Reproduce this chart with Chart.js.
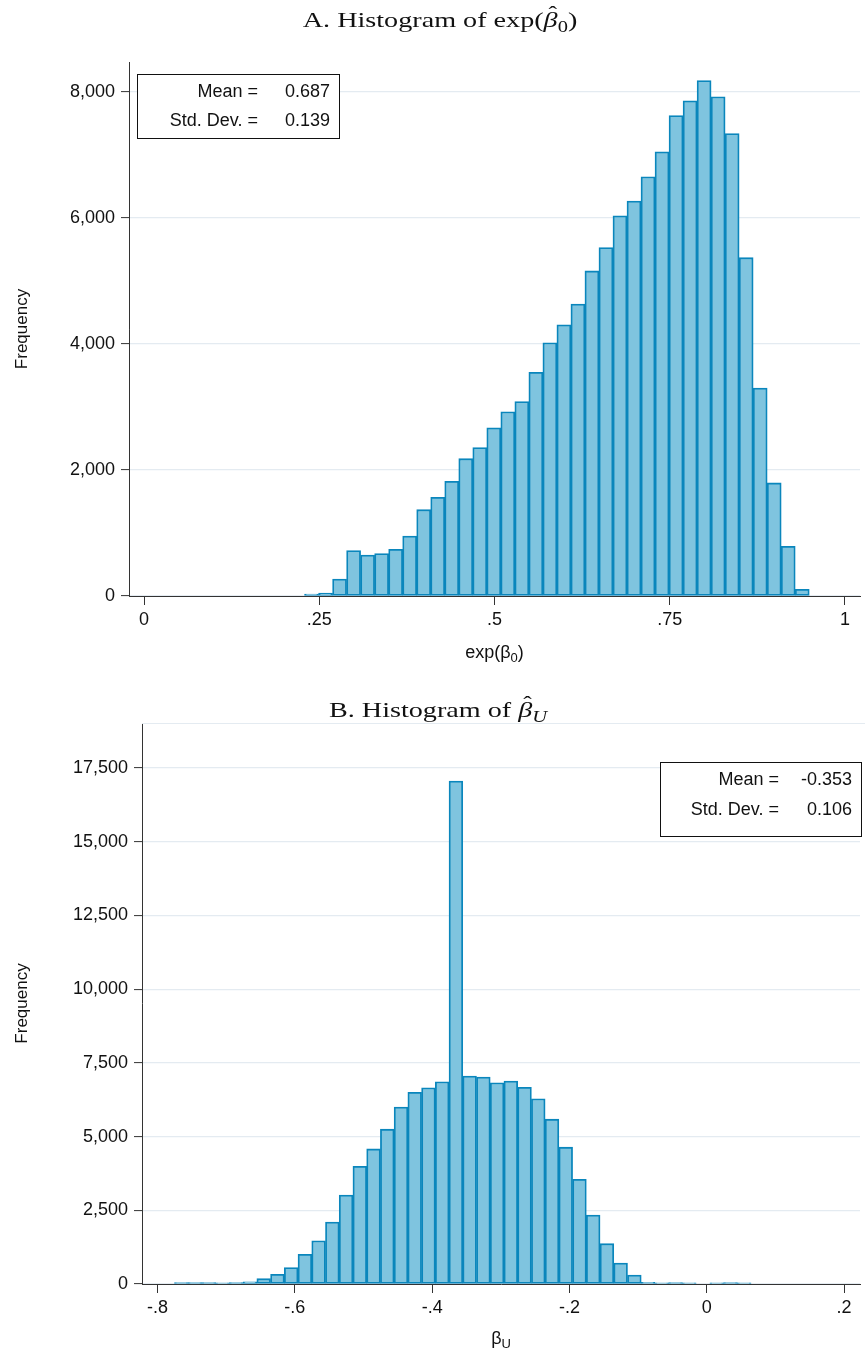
<!DOCTYPE html>
<html>
<head>
<meta charset="utf-8">
<script src="https://cdn.jsdelivr.net/npm/chart.js@4.4.1/dist/chart.umd.min.js"></script>
<style>
  html, body { margin: 0; padding: 0; background: #ffffff; }
  #wrap { position: relative; width: 865px; height: 1356px; }
  .panel { position: absolute; left: 0; width: 865px; }
  #panelA { top: 0; height: 680px; }
  #panelB { top: 680px; height: 676px; }
</style>
</head>
<body>
<div id="wrap">
  <div class="panel" id="panelA"><canvas id="chartA" width="865" height="680"></canvas></div>
  <div class="panel" id="panelB"><canvas id="chartB" width="865" height="676"></canvas></div>
</div>
<script>
// ---- Panel A: histogram of exp(beta0) ----
const binWidth = 0.02;
const expB0Start = 0.229;
const expB0Counts = [
  30, 45, 270, 720, 650, 675, 740, 950, 1370, 1565,
  1820, 2180, 2355, 2670, 2925, 3085, 3550, 4020, 4305, 4635,
  5160, 5530, 6035, 6270, 6655, 7050, 7625, 7860, 8180, 7925,
  7340, 5370, 3300, 1795, 790, 105
];
const expB0XTicks = [0, 0.25, 0.5, 0.75, 1];
const expB0XTickLabels = ['0', '.25', '.5', '.75', '1'];
const expB0YTicks = [0, 2000, 4000, 6000, 8000];
const expB0StatLabels = ['Mean =', 'Std. Dev. ='];
const expB0StatValues = ['0.687', '0.139'];

// ---- Panel B: histogram of beta_U ----
const betaUStart = -0.7754;
const betaUCounts = [
  45, 45, 45, 40, 50, 70, 180, 330, 560, 1008,
  1468, 2100, 3018, 3990, 4580, 5250, 6002, 6500, 6657, 6860,
  17060, 7053, 7020, 6826, 6884, 6670, 6284, 5590, 4640, 3550,
  2340, 1367, 710, 305, 60, 40, 45, 40, 0, 40,
  45, 40
];
const betaUXTicks = [-0.8, -0.6, -0.4, -0.2, 0, 0.2];
const betaUXTickLabels = ['-.8', '-.6', '-.4', '-.2', '0', '.2'];
const betaUYTicks = [0, 2500, 5000, 7500, 10000, 12500, 15000, 17500];
const betaUStatLabels = ['Mean =', 'Std. Dev. ='];
const betaUStatValues = ['-0.353', '0.106'];

const SANS = '"Liberation Sans", Arial, Helvetica, sans-serif';
const SERIF = '"Liberation Serif", "DejaVu Serif", serif';
const FILL = '#7fc4df';
const EDGE = '#0a86bc';
const AXIS = '#333333';
const GRID = '#e4ebf1';

function histPoints(start, counts) {
  return counts.map((c, i) => ({ x: start + binWidth * (i + 0.5), y: c }));
}

// Draws a run of text pieces; each piece can be italic, subscripted or carry a hat.
// The run is stretched horizontally by sx around its centre.
function drawPieces(ctx, pieces, cx, baseline, family, size, sx) {
  const fontOf = p => (p.italic ? 'italic ' : '') + Math.round(p.sub ? size * 0.72 : size) + 'px ' + family;
  let total = 0;
  pieces.forEach(p => { ctx.font = fontOf(p); p.w = ctx.measureText(p.t).width; total += p.w; });
  ctx.save();
  ctx.translate(cx, 0);
  ctx.scale(sx || 1, 1);
  let x = -total / 2;
  ctx.textAlign = 'left';
  ctx.textBaseline = 'alphabetic';
  pieces.forEach(p => {
    ctx.font = fontOf(p);
    const y = baseline + (p.sub ? size * 0.22 : 0);
    ctx.fillText(p.t, x, y);
    if (p.hat) {
      ctx.font = Math.round(size * 0.9) + 'px ' + family;
      const hw = ctx.measureText('\u02C6').width;
      ctx.fillText('\u02C6', x + p.w / 2 - hw / 2 + size * 0.08, baseline - size * 0.28);
    }
    x += p.w;
  });
  ctx.restore();
}

const labelPlugin = {
  id: 'panelText',
  beforeDatasetsDraw(chart, args, opts) {
    // faint rule along the top of the plot region
    if (!opts.topRule) return;
    const { ctx, chartArea: a } = chart;
    ctx.save();
    ctx.strokeStyle = GRID;
    ctx.lineWidth = 1.2;
    ctx.beginPath();
    ctx.moveTo(a.left, a.top + 0.5);
    ctx.lineTo(chart.width, a.top + 0.5);
    ctx.stroke();
    ctx.restore();
  },
  afterDraw(chart, args, opts) {
    const ctx = chart.ctx;
    ctx.save();
    ctx.fillStyle = '#111111';
    drawPieces(ctx, opts.title, opts.titleX, opts.titleY, SERIF, 22, 1.28);
    drawPieces(ctx, opts.xTitle, (chart.chartArea.left + chart.chartArea.right) / 2, opts.xTitleY, SANS, 18, 1);
    // statistics box
    const b = opts.box;
    ctx.fillStyle = '#ffffff';
    ctx.fillRect(b.x, b.y, b.w, b.h);
    ctx.strokeStyle = '#111111';
    ctx.lineWidth = 1;
    ctx.strokeRect(b.x + 0.5, b.y + 0.5, b.w, b.h);
    ctx.fillStyle = '#111111';
    ctx.font = '18px ' + SANS;
    ctx.textAlign = 'right';
    ctx.textBaseline = 'middle';
    opts.statLabels.forEach((s, i) => {
      ctx.fillText(s, b.labelRight, b.rows[i]);
      ctx.fillText(opts.statValues[i], b.valueRight, b.rows[i]);
    });
    ctx.restore();
  }
};

function makeChart(id, cfg) {
  const xLabels = cfg.xTickLabels;
  return new Chart(document.getElementById(id), {
    type: 'bar',
    data: {
      datasets: [{
        data: histPoints(cfg.start, cfg.counts),
        backgroundColor: FILL,
        borderColor: EDGE,
        borderWidth: 1.8,
        borderSkipped: false,
        barPercentage: 1,
        categoryPercentage: 1
      }]
    },
    options: {
      responsive: false,
      animation: false,
      events: [],
      layout: { padding: { top: cfg.padTop, right: 5, left: 0, bottom: 0 } },
      plugins: {
        legend: { display: false },
        tooltip: { enabled: false },
        panelText: {
          title: cfg.title, titleX: cfg.titleX, titleY: cfg.titleY,
          xTitle: cfg.xTitle, xTitleY: cfg.xTitleY, topRule: cfg.topRule,
          box: cfg.box, statLabels: cfg.statLabels, statValues: cfg.statValues
        }
      },
      scales: {
        x: {
          type: 'linear',
          offset: false,
          min: cfg.xMin, max: cfg.xMax,
          afterFit: s => { s.height = cfg.xHeight; },
          afterBuildTicks: s => { s.ticks = cfg.xTicks.map(v => ({ value: v })); },
          grid: { offset: false, drawOnChartArea: false, tickLength: 9, color: AXIS, tickWidth: 1 },
          border: { color: AXIS, width: 1 },
          ticks: {
            color: '#111111', padding: 4, maxRotation: 0, autoSkip: false,
            font: { family: SANS, size: 18 },
            callback: (v, i) => xLabels[i]
          }
        },
        y: {
          type: 'linear',
          min: 0, max: cfg.yMax,
          afterFit: s => { s.width = cfg.yWidth; },
          afterBuildTicks: s => { s.ticks = cfg.yTicks.map(v => ({ value: v })); },
          grid: { color: GRID, lineWidth: 1.2, tickLength: 8, tickColor: AXIS, tickWidth: 1 },
          border: { color: AXIS, width: 1 },
          title: {
            display: true, text: 'Frequency', color: '#111111',
            font: { family: SANS, size: 17 }, padding: { top: 12, bottom: 0 }
          },
          ticks: {
            color: '#111111', padding: 6, autoSkip: false,
            font: { family: SANS, size: 18 },
            callback: v => v.toLocaleString('en-US')
          }
        }
      }
    },
    plugins: [labelPlugin]
  });
}

makeChart('chartA', {
  start: expB0Start, counts: expB0Counts,
  xTicks: expB0XTicks, xTickLabels: expB0XTickLabels, yTicks: expB0YTicks,
  xMin: -0.0214, xMax: 1.0214, yMax: 8476,
  padTop: 62, yWidth: 129, xHeight: 84, topRule: false,
  title: [{ t: 'A. Histogram of exp(' }, { t: '\u03B2', italic: true, hat: true }, { t: '0', sub: true }, { t: ')' }],
  titleX: 440, titleY: 27,
  xTitle: [{ t: 'exp(\u03B2' }, { t: '0', sub: true }, { t: ')' }],
  xTitleY: 658,
  box: { x: 137, y: 74, w: 202, h: 64, labelRight: 258, valueRight: 330, rows: [92, 121] },
  statLabels: expB0StatLabels, statValues: expB0StatValues
});

makeChart('chartB', {
  start: betaUStart, counts: betaUCounts,
  xTicks: betaUXTicks, xTickLabels: betaUXTickLabels, yTicks: betaUYTicks,
  xMin: -0.8227, xMax: 0.2233, yMax: 19026,
  padTop: 43, yWidth: 142, xHeight: 72, topRule: true,
  title: [{ t: 'B. Histogram of ' }, { t: '\u03B2', italic: true, hat: true }, { t: 'U', italic: true, sub: true }],
  titleX: 438, titleY: 37,
  xTitle: [{ t: '\u03B2' }, { t: 'U', sub: true }],
  xTitleY: 664,
  box: { x: 660, y: 82, w: 201, h: 74, labelRight: 779, valueRight: 852, rows: [100, 130] },
  statLabels: betaUStatLabels, statValues: betaUStatValues
});
</script>
</body>
</html>
